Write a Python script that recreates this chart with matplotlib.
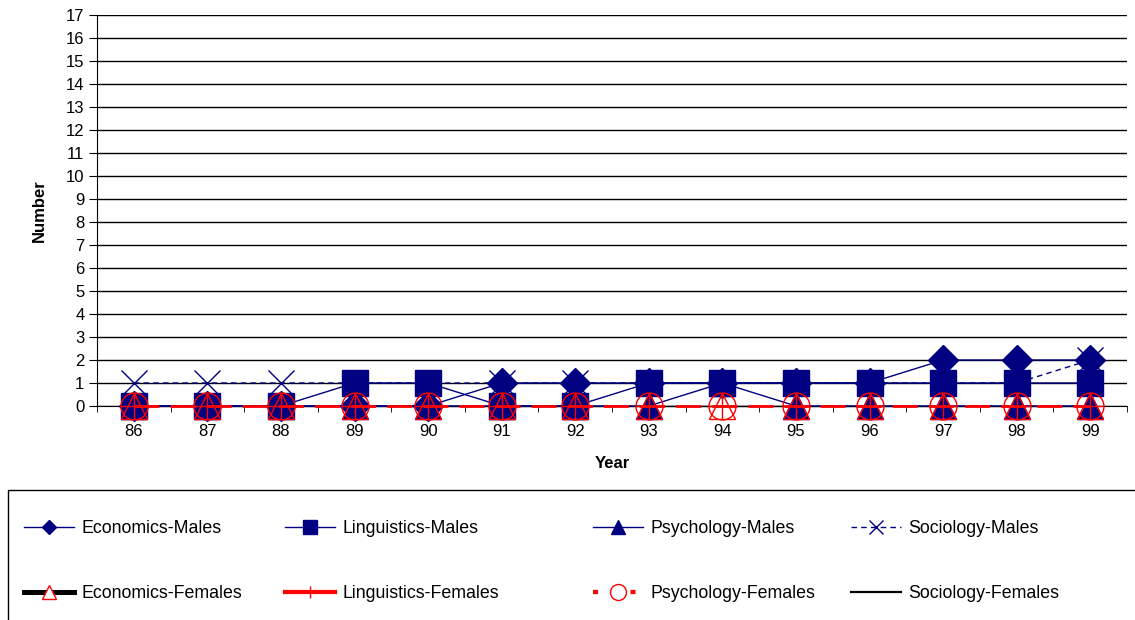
import matplotlib
matplotlib.use("Agg")
import matplotlib.pyplot as plt
from matplotlib.patches import Rectangle
from matplotlib.lines import Line2D
import numpy as np

plt.rcParams['font.family'] = ['Liberation Sans', 'DejaVu Sans']

years = ["86", "87", "88", "89", "90", "91", "92", "93", "94", "95", "96", "97", "98", "99"]
economics_males = [0, 0, 0, 0, 0, 1, 1, 1, 1, 1, 1, 2, 2, 2]
linguistics_males = [0, 0, 0, 1, 1, 0, 0, 1, 1, 1, 1, 1, 1, 1]
psychology_males = [0, 0, 0, 0, 0, 0, 0, 0, 1, 0, 0, 0, 0, 0]
sociology_males = [1, 1, 1, 1, 1, 1, 1, 1, 1, 1, 1, 1, 1, 2]
economics_females = [0] * 14
linguistics_females = [0] * 14
psychology_females = [0] * 14
sociology_females = [0] * 14

fig = plt.figure(figsize=(11.35, 6.2), dpi=100)
ax = fig.add_axes([97/1135, 1 - 406/620, (1127-97)/1135, (406-15)/620])
x = np.arange(len(years))
navy = '#000080'
ms = 19.4

ax.plot(x, economics_males, color=navy, lw=1, marker='D', ms=15.7, mfc=navy, mec=navy, zorder=3, clip_on=False)
ax.plot(x, linguistics_males, color=navy, lw=1, marker='s', ms=ms, mfc=navy, mec=navy, zorder=3, clip_on=False)
ax.plot(x, psychology_males, color=navy, lw=1, marker='^', ms=ms, mfc=navy, mec=navy, zorder=3, clip_on=False)
ax.plot(x, sociology_males, color=navy, lw=1, ls=(0, (4, 3)), marker='x', ms=ms, mew=1, mec=navy, zorder=2.9, clip_on=False)
ax.plot(x, economics_females, color='black', lw=1, ls='none', marker='^', ms=ms, mfc='none', mec='red', mew=1, zorder=4, clip_on=False)
ax.plot(x, linguistics_females, color='red', lw=1, ls='none', marker='+', ms=ms, mec='red', mew=1, zorder=4, clip_on=False)
ax.plot(x, psychology_females, color='red', lw=2, ls=(0, (9, 4)), marker='o', ms=ms, mfc='none', mec='red', mew=1, zorder=4, clip_on=False)
ax.plot(x, sociology_females, color='black', lw=1, zorder=2.4, clip_on=False)

ax.set_xlim(-0.5, len(years) - 0.5)
ax.set_ylim(0, 17)
ax.set_yticks(range(0, 18))
ax.set_yticklabels([str(i) for i in range(18)], fontsize=12)
ax.yaxis.grid(True, color='black', lw=1)
ax.set_axisbelow(True)
ax.set_xticks(x)
ax.set_xticklabels(years, fontsize=12)
ax.tick_params(axis='x', which='major', length=0, pad=13)
ax.set_xticks(np.arange(-0.5, len(years)), minor=True)
ax.tick_params(axis='x', which='minor', length=4, color='black', direction='out')
ax.tick_params(axis='y', length=6, color='black', direction='out', pad=3)
for s in ['top', 'right']:
    ax.spines[s].set_visible(False)
ax.spines['left'].set_color('black')
ax.spines['bottom'].set_color('black')
ax.set_xlabel('Year', fontsize=12, fontweight='bold', labelpad=12)
ax.set_ylabel('Number', fontsize=12, fontweight='bold', labelpad=14)

# legend frame
fig.patches.append(Rectangle((8/1135, -0.05), 1.2, (130/620) + 0.05, transform=fig.transFigure,
                             fill=False, edgecolor='black', lw=1, zorder=1))

h_em = Line2D([], [], color=navy, lw=1, marker='D', ms=7.3, mfc=navy, mec=navy, label='Economics-Males')
h_lm = Line2D([], [], color=navy, lw=1, marker='s', ms=9.4, mfc=navy, mec=navy, label='Linguistics-Males')
h_pm = Line2D([], [], color=navy, lw=1, marker='^', ms=9.4, mfc=navy, mec=navy, label='Psychology-Males')
h_sm = Line2D([], [], color=navy, lw=1, ls=(0, (4, 3)), marker='x', ms=10, mew=1, mec=navy, label='Sociology-Males')
h_ef = Line2D([], [], color='black', lw=3.6, marker='^', ms=10, mfc='white', mec='red', mew=1, label='Economics-Females')
h_lf = Line2D([], [], color='red', lw=3, marker='+', ms=8.6, mec='red', mew=1, label='Linguistics-Females')
h_pf = Line2D([], [], color='red', lw=3, ls=(0, (1.2, 3.3)), marker='o', ms=11.5, mfc='white', mec='red', mew=1, label='Psychology-Females')
h_sf = Line2D([], [], color='black', lw=1.6, label='Sociology-Females')

columns = [(h_em, h_ef, 24), (h_lm, h_lf, 285), (h_pm, h_pf, 593), (h_sm, h_sf, 851)]
for hm, hf, xpx in columns:
    fig.legend(handles=[hm, hf], labels=[hm.get_label(), hf.get_label()],
               loc='upper left', bbox_to_anchor=(xpx/1135, 1 - 520/620),
               fontsize=12.8, frameon=False,
               handlelength=2.8, handletextpad=0.42, labelspacing=2.7,
               borderpad=0, borderaxespad=0)

fig.savefig('out.png', dpi=100)
